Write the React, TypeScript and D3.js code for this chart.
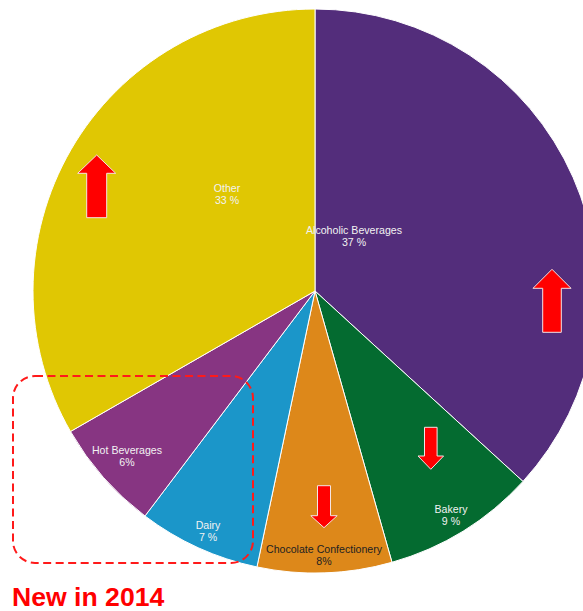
import React from "react";
import * as d3 from "d3";

const categories = ["Alcoholic Beverages", "Bakery", "Chocolate Confectionery", "Dairy", "Hot Beverages", "Other"];
const values = [36.8, 8.8, 7.7, 7.0, 6.4, 33.3];
const valueLabels = ["37 %", "9 %", "8%", "7 %", "6%", "33 %"];
const colors = ["#532D7B", "#046B30", "#DD881A", "#1B96C9", "#873582", "#E0C703"];
const labelColors = ["#F2F2F2", "#F2F2F2", "#222222", "#F2F2F2", "#F2F2F2", "#F2F2F2"];
// label anchor offsets from pie centre (layout)
const labelOffsets: [number, number][] = [[39, -57], [136, 221.5], [9, 262.3], [-107, 238], [-188, 163], [-88, -99]];
// trend arrows (layout)
const arrows = [
  { cx: 96.7, tip: 155, headBase: 173.3, bottom: 217.7, head: 19, shaft: 10 },
  { cx: 552, tip: 269.3, headBase: 288.3, bottom: 332.3, head: 19, shaft: 9.3 },
  { cx: 430.8, tip: 469.3, headBase: 456, bottom: 427.3, head: 12.8, shaft: 6.3 },
  { cx: 324, tip: 527.7, headBase: 515.7, bottom: 485.7, head: 13.2, shaft: 6.5 },
];

const W = 583, H = 611;
const cx = 315, cy = 291, R = 282;

function arrowPath(a: typeof arrows[number]) {
  const p = d3.path();
  p.moveTo(a.cx, a.tip);
  p.lineTo(a.cx + a.head, a.headBase);
  p.lineTo(a.cx + a.shaft, a.headBase);
  p.lineTo(a.cx + a.shaft, a.bottom);
  p.lineTo(a.cx - a.shaft, a.bottom);
  p.lineTo(a.cx - a.shaft, a.headBase);
  p.lineTo(a.cx - a.head, a.headBase);
  p.closePath();
  return p.toString();
}

export default function App() {
  const pie = d3.pie<number>().sort(null).value((d) => d);
  const arcs = pie(values);
  const arc = d3.arc<d3.PieArcDatum<number>>().innerRadius(0).outerRadius(R);
  return (
    <svg width={W} height={H} style={{ position: "absolute", left: 0, top: 0, background: "#fff" }}
      fontFamily="'Liberation Sans', Arial, sans-serif">
      <g transform={`translate(${cx},${cy})`}>
        {arcs.map((a, i) => (
          <path key={i} d={arc(a) || ""} fill={colors[i]} stroke="#ffffff" strokeWidth={1} />
        ))}
        {arcs.map((a, i) => (
          <text key={"l" + i} x={labelOffsets[i][0]} y={labelOffsets[i][1]} textAnchor="middle"
            fontSize={10.6} fill={labelColors[i]}>
            <tspan x={labelOffsets[i][0]} dy={0}>{categories[i]}</tspan>
            <tspan x={labelOffsets[i][0]} dy={12}>{valueLabels[i]}</tspan>
          </text>
        ))}
      </g>
      {arrows.map((a, i) => (
        <path key={"a" + i} d={arrowPath(a)} fill="#FF0000" stroke="#F4E4E4" strokeWidth={1} />
      ))}
      <rect x={13} y={376} width={240} height={187} rx={22} ry={22} fill="none"
        stroke="#FF1A1A" strokeWidth={2} strokeDasharray="8,4.5" />
      <text x={12} y={606} fontSize={26.6} fontWeight="bold" fill="#FF0000">New in 2014</text>
    </svg>
  );
}
